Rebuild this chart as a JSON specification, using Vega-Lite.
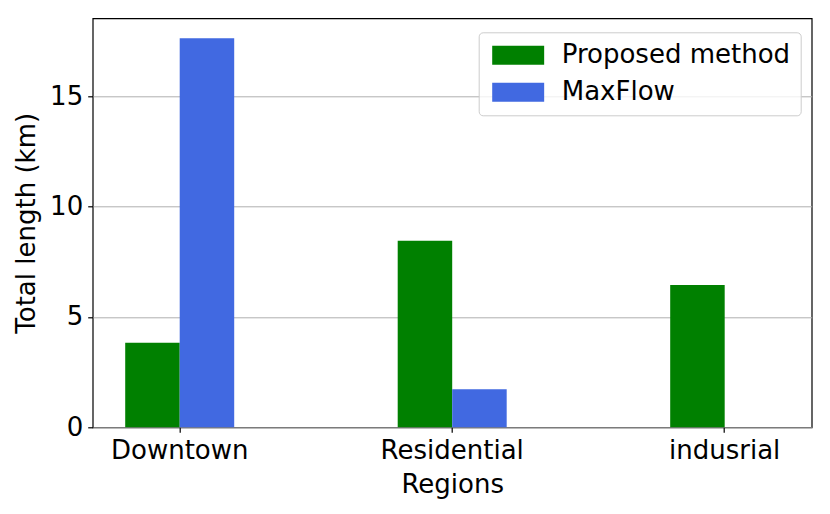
{
  "$schema": "https://vega.github.io/schema/vega-lite/v6.json",
  "width": 719,
  "height": 409,
  "autosize": {"type": "none"},
  "padding": {"left": 92.7, "top": 18.3, "right": 18.3, "bottom": 86.7},
  "background": "white",
  "config": {
    "font": "DejaVu Sans",
    "view": {"stroke": "black", "strokeWidth": 1.2},
    "axis": {"labelFont": "DejaVu Sans", "titleFont": "DejaVu Sans", "labelColor": "black", "titleColor": "black", "titleFontWeight": "normal", "tickColor": "black", "tickWidth": 1.2, "tickSize": 5, "domain": false}
  },
  "data": {
    "values": [
      {"region": "Downtown", "method": "Proposed method", "length": 3.83},
      {"region": "Downtown", "method": "MaxFlow", "length": 17.62},
      {"region": "Residential", "method": "Proposed method", "length": 8.45},
      {"region": "Residential", "method": "MaxFlow", "length": 1.72},
      {"region": "indusrial", "method": "Proposed method", "length": 6.44},
      {"region": "indusrial", "method": "MaxFlow", "length": 0}
    ]
  },
  "mark": {"type": "bar"},
  "encoding": {
    "x": {
      "field": "region",
      "type": "nominal",
      "sort": ["Downtown", "Residential", "indusrial"],
      "scale": {"paddingInner": 0.6, "paddingOuter": 0.1193},
      "axis": {"title": "Regions", "labelAngle": 0, "labelFontSize": 26, "titleFontSize": 26, "labelPadding": 5, "titlePadding": 8, "grid": false}
    },
    "xOffset": {
      "field": "method",
      "type": "nominal",
      "sort": ["Proposed method", "MaxFlow"],
      "scale": {"paddingInner": 0, "paddingOuter": 0}
    },
    "y": {
      "field": "length",
      "type": "quantitative",
      "scale": {"domain": [0, 18.52], "nice": false, "zero": true},
      "axis": {"title": "Total length (km)", "values": [0, 5, 10, 15], "labelFontSize": 26, "titleFontSize": 26, "labelPadding": 5, "titlePadding": 10, "grid": true, "gridColor": "#b0b0b0", "gridWidth": 1}
    },
    "color": {
      "field": "method",
      "type": "nominal",
      "sort": ["Proposed method", "MaxFlow"],
      "scale": {"domain": ["Proposed method", "MaxFlow"], "range": ["#008000", "#4169e1"]},
      "legend": {
        "title": null,
        "orient": "none",
        "legendX": 386,
        "legendY": 14,
        "direction": "vertical",
        "fillColor": "rgba(255,255,255,0.8)",
        "strokeColor": "#cccccc",
        "cornerRadius": 4,
        "padding": 10,
        "rowPadding": 11,
        "symbolType": "M-1,-1H4.47V1H-1Z",
        "symbolSize": 361,
        "symbolStrokeWidth": 0,
        "symbolOpacity": 1,
        "labelOffset": 47,
        "labelLimit": 400,
        "labelFontSize": 26,
        "labelColor": "black",
        "labelFont": "DejaVu Sans"
      }
    }
  }
}
